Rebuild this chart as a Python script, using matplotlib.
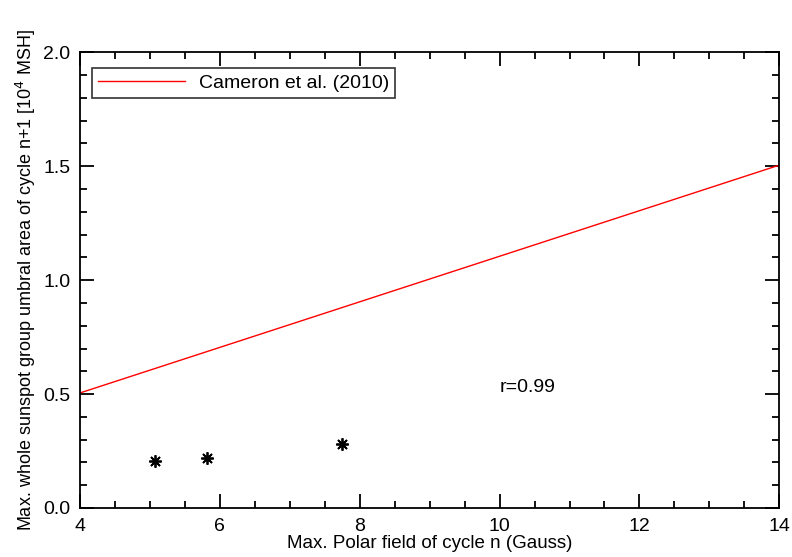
import numpy as np
import matplotlib
matplotlib.use('Agg')
import matplotlib.pyplot as plt
from matplotlib.ticker import MultipleLocator, FormatStrFormatter

plt.rcParams['font.family'] = ['Liberation Sans', 'DejaVu Sans']

# datos
polar_field = [5.07, 5.82, 7.74]
umbral_area = [0.207, 0.22, 0.283]
fit_x = [4, 14]
fit_y = [0.505, 1.505]

fig = plt.figure(figsize=(7.92, 5.57), dpi=100)
ax = fig.add_axes([0.101, 0.088, 0.883, 0.818])

ax.plot(fit_x, fit_y, color='red', lw=1.0, label='Cameron et al. (2010)')
ax.plot(polar_field, umbral_area, ls='none', marker=(8, 2, 0), ms=9, mew=1.3, color='black')
ax.text(10.0, 0.53, 'r=0.99', fontsize=14, va='center', ha='left')

ax.set_xlim(4, 14)
ax.set_ylim(0, 2.0)
ax.xaxis.set_major_locator(MultipleLocator(2))
ax.xaxis.set_minor_locator(MultipleLocator(0.5))
ax.yaxis.set_major_locator(MultipleLocator(0.5))
ax.yaxis.set_minor_locator(MultipleLocator(0.1))
ax.yaxis.set_major_formatter(FormatStrFormatter('%.1f'))
ax.tick_params(which='both', direction='in', top=True, right=True, width=1.3, labelsize=14, pad=7)
ax.tick_params(which='major', length=10)
ax.tick_params(which='minor', length=5)
for s in ax.spines.values():
    s.set_linewidth(1.3)

ax.set_xlabel('Max. Polar field of cycle n (Gauss)', fontsize=13.5, labelpad=0)
ax.set_ylabel('Max. whole sunspot group umbral area of cycle n+1 [10$^4$ MSH]', fontsize=13, labelpad=4)

leg = ax.legend(loc='upper left', fontsize=14, fancybox=False, edgecolor='black',
                handlelength=4.5, handletextpad=0.7, borderpad=0.3, borderaxespad=0,
                bbox_to_anchor=(0.017, 0.965))
leg.get_frame().set_linewidth(1.2)

fig.savefig('out.png', dpi=100)
